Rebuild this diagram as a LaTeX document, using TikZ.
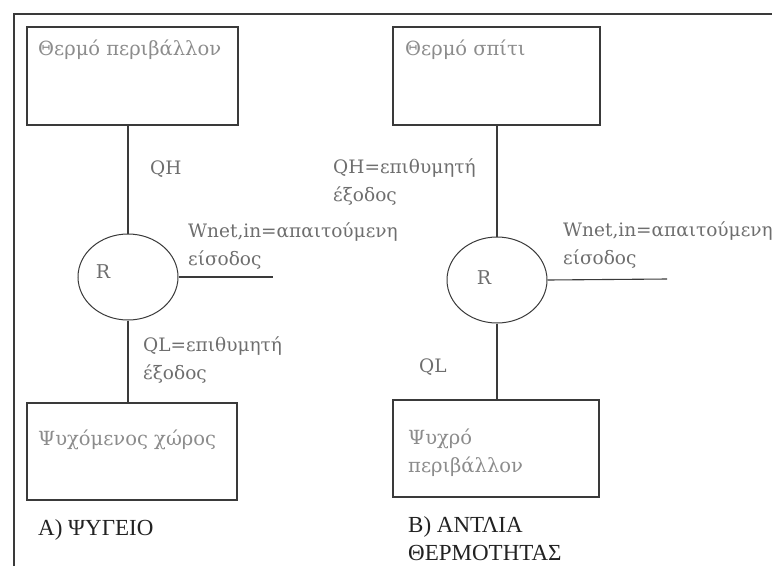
\documentclass[tikz,border=0pt]{standalone}
\usepackage{fontspec}
\setmainfont{Liberation Serif}
\newfontfamily\labfont{DejaVu Serif}
\usetikzlibrary{shapes.geometric}
\definecolor{linec}{HTML}{3A3A3A}
\definecolor{lightt}{HTML}{8C8C8C}
\definecolor{midt}{HTML}{6E6E6E}
\definecolor{darkt}{HTML}{222222}
\begin{document}
\begin{tikzpicture}[x=1pt,y=-1pt,
  box/.style={draw=linec,line width=1.1pt,rectangle,inner sep=0pt},
  cyc/.style={draw=linec,line width=1pt,ellipse,inner sep=0pt,minimum width=100pt,minimum height=86pt},
  wire/.style={draw=linec,line width=1.1pt},
  lbl/.style={anchor=west,inner sep=0pt,text=lightt,font=\labfont\fontsize{19.5}{28}\selectfont,align=left},
  qlbl/.style={anchor=west,inner sep=0pt,text=midt,font=\labfont\fontsize{18.5}{28}\selectfont,align=left},
  captxt/.style={anchor=west,inner sep=0pt,text=darkt,font=\fontsize{23}{28}\selectfont,align=left}]
\useasboundingbox (0,0) rectangle (772,566);
\fill[white] (0,0) rectangle (772,566);
\coordinate (fbl) at (14,566);
\coordinate (ftl) at (14,14);
\coordinate (ftr) at (772,14);
\draw[wire,line width=1.3pt] (fbl) -- (ftl) -- (ftr);
% boxes
\node[box,minimum width=211pt,minimum height=98pt] (b1) at (132.5,76) {};
\node[box,minimum width=207pt,minimum height=98pt] (b2) at (496.5,76) {};
\node[box,minimum width=210pt,minimum height=97pt] (b3) at (132,451.5) {};
\node[box,minimum width=206pt,minimum height=97pt] (b4) at (496,448.5) {};
% cycles
\node[cyc] (r1) at (128,277) {};
\node[cyc] (r2) at (497,280) {};
\node[anchor=center,inner sep=0pt,text=midt,font=\labfont\fontsize{19}{22}\selectfont] (r1t) at (103,272) {R};
\node[anchor=center,inner sep=0pt,text=midt,font=\labfont\fontsize{19}{22}\selectfont] (r2t) at (484,278) {R};
% connectors
\coordinate (w1) at (273,277);
\coordinate (w2) at (667,279);
\draw[wire] (r1.north) -- (r1.north |- b1.south);
\draw[wire] (r1.south) -- (r1.south |- b3.north);
\draw[wire] (r1.east) -- (w1);
\draw[wire] (r2.north) -- (r2.north |- b2.south);
\draw[wire] (r2.south) -- (r2.south |- b4.north);
\draw[wire] (r2.east) -- (w2);
% labels
\node[lbl] (t1) at (38,50) {Θερμό περιβάλλον};
\node[lbl] (t2) at (405,50) {Θερμό σπίτι};
\node[lbl] (t3) at (38,440) {Ψυχόμενος χώρος};
\node[lbl] (t4) at (408,453) {Ψυχρό\\περιβάλλον};
\node[qlbl] (q1) at (150,169) {QH};
\node[qlbl] (q2) at (333,182) {QH=επιθυμητή\\έξοδος};
\node[qlbl] (q3) at (188,246) {Wnet,in=απαιτούμενη\\είσοδος};
\node[qlbl] (q4) at (563,245) {Wnet,in=απαιτούμενη\\είσοδος};
\node[qlbl] (q5) at (143,360) {QL=επιθυμητή\\έξοδος};
\node[qlbl] (q6) at (419,367) {QL};
\node[captxt] (c1) at (38,530) {Α) ΨΥΓΕΙΟ};
\node[captxt] (c2) at (408,539) {Β) ΑΝΤΛΙΑ\\ΘΕΡΜΟΤΗΤΑΣ};
\end{tikzpicture}
\end{document}
